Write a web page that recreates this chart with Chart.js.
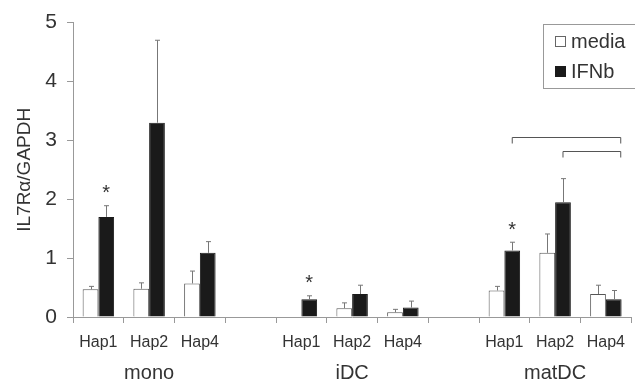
<!DOCTYPE html>
<html>
<head>
<meta charset="utf-8">
<script src="https://cdn.jsdelivr.net/npm/chart.js@4"></script>
<style>
  body { margin: 0; background: #fff; }
  #wrap { width: 635px; height: 384px; }
</style>
</head>
<body>
<div id="wrap"><canvas id="c" width="635" height="384"></canvas></div>
<script>
// categories (blank slot = gap between cell types)
const labels = ['Hap1', 'Hap2', 'Hap4', '', 'Hap1', 'Hap2', 'Hap4', '', 'Hap1', 'Hap2', 'Hap4'];
const groups = ['mono', 'iDC', 'matDC'];
const groupCenters = [1, 5, 9]; // index of middle bar in each group

const media    = [0.47, 0.48, 0.57, null, 0.01, 0.15, 0.08, null, 0.45, 1.09, 0.39];
const mediaErr = [0.05, 0.10, 0.21, null, 0.00, 0.09, 0.05, null, 0.07, 0.32, 0.15];
const ifnb     = [1.70, 3.30, 1.09, null, 0.30, 0.39, 0.16, null, 1.13, 1.95, 0.30];
const ifnbErr  = [0.19, 1.40, 0.19, null, 0.06, 0.15, 0.11, null, 0.14, 0.40, 0.15];

const starIdx = [0, 4, 8]; // asterisks over IFNb bars
// significance brackets: [fromDataset, fromIdx, toDataset, toIdx, value]
const brackets = [[1, 8, 1, 10, 3.05], [1, 9, 1, 10, 2.82]];

const yTicks = [0, 1, 2, 3, 4, 5];
const textCol = '#333';
const fam = 'Arial, "Liberation Sans"';

const extras = {
  id: 'extras',
  afterDatasetsDraw(chart) {
    const ctx = chart.ctx;
    const y = chart.scales.y, x = chart.scales.x;
    const errs = [mediaErr, ifnbErr];
    ctx.save();
    ctx.strokeStyle = '#777';
    ctx.lineWidth = 1;
    // error bars (upper only)
    chart.data.datasets.forEach((ds, d) => {
      const meta = chart.getDatasetMeta(d);
      meta.data.forEach((el, i) => {
        if (ds.data[i] == null || !errs[d][i]) return;
        const top = y.getPixelForValue(ds.data[i] + errs[d][i]);
        const cx = Math.round(el.x) + 0.5;
        ctx.beginPath();
        ctx.moveTo(cx, el.y);
        ctx.lineTo(cx, top);
        ctx.moveTo(cx - 2.5, top);
        ctx.lineTo(cx + 2.5, top);
        ctx.stroke();
      });
    });
    // asterisks
    ctx.fillStyle = textCol;
    ctx.font = '20px ' + fam;
    ctx.textAlign = 'center';
    ctx.textBaseline = 'middle';
    const im = chart.getDatasetMeta(1);
    starIdx.forEach(i => {
      const top = y.getPixelForValue(ifnb[i] + ifnbErr[i]);
      ctx.fillText('*', im.data[i].x, top - 12);
    });
    // brackets
    ctx.strokeStyle = '#555';
    brackets.forEach(b => {
      const x1 = chart.getDatasetMeta(b[0]).data[b[1]].x;
      const x2 = chart.getDatasetMeta(b[2]).data[b[3]].x + 7;
      const py = Math.round(y.getPixelForValue(b[4])) + 0.5;
      ctx.beginPath();
      ctx.moveTo(x1, py + 6);
      ctx.lineTo(x1, py);
      ctx.lineTo(x2, py);
      ctx.lineTo(x2, py + 6);
      ctx.stroke();
    });
    // group labels
    ctx.font = '20px ' + fam;
    groups.forEach((g, k) => {
      ctx.fillText(g, x.getPixelForValue(groupCenters[k]), 373);
    });
    // legend box
    ctx.strokeStyle = '#999';
    ctx.strokeRect(543.5, 24.5, 100, 64);
    ctx.fillStyle = '#fff';
    ctx.strokeStyle = '#666';
    ctx.fillRect(555.5, 36.5, 10, 10);
    ctx.strokeRect(555.5, 36.5, 10, 10);
    ctx.fillStyle = '#1a1a1a';
    ctx.fillRect(555, 66, 11, 11);
    ctx.fillStyle = textCol;
    ctx.font = '20px ' + fam;
    ctx.textAlign = 'left';
    ctx.fillText('media', 571, 42);
    ctx.fillText('IFNb', 571, 72);
    ctx.restore();
  }
};

new Chart(document.getElementById('c'), {
  type: 'bar',
  data: {
    labels: labels,
    datasets: [
      { label: 'media', data: media, backgroundColor: '#fff', borderColor: '#555', borderWidth: 1 },
      { label: 'IFNb', data: ifnb, backgroundColor: '#1a1a1a', borderColor: '#1a1a1a', borderWidth: 1 }
    ]
  },
  options: {
    responsive: false,
    animation: false,
    layout: { padding: { top: 20, left: 0, right: 0, bottom: 0 } },
    plugins: { legend: { display: false }, tooltip: { enabled: false } },
    datasets: { bar: { categoryPercentage: 0.62, barPercentage: 1.0 } },
    scales: {
      x: {
        grid: { display: true, drawOnChartArea: false, offset: true, tickLength: 6, color: '#999' },
        border: { color: '#999' },
        ticks: { color: textCol, font: { family: fam, size: 16 }, autoSkip: false, maxRotation: 0, padding: 10 },
        afterFit: s => { s.height = 67; }
      },
      y: {
        min: 0, max: 5,
        afterBuildTicks: s => { s.ticks = yTicks.map(v => ({ value: v })); },
        grid: { display: true, drawOnChartArea: false, tickLength: 6, color: '#999' },
        border: { color: '#999' },
        ticks: { color: textCol, font: { family: fam, size: 21 }, padding: 10 },
        title: { display: true, text: 'IL7Rα/GAPDH', color: textCol, font: { family: fam, size: 19 }, padding: { top: 13, bottom: 0 } },
        afterFit: s => { s.width = 73; }
      }
    }
  },
  plugins: [extras]
});
</script>
</body>
</html>
